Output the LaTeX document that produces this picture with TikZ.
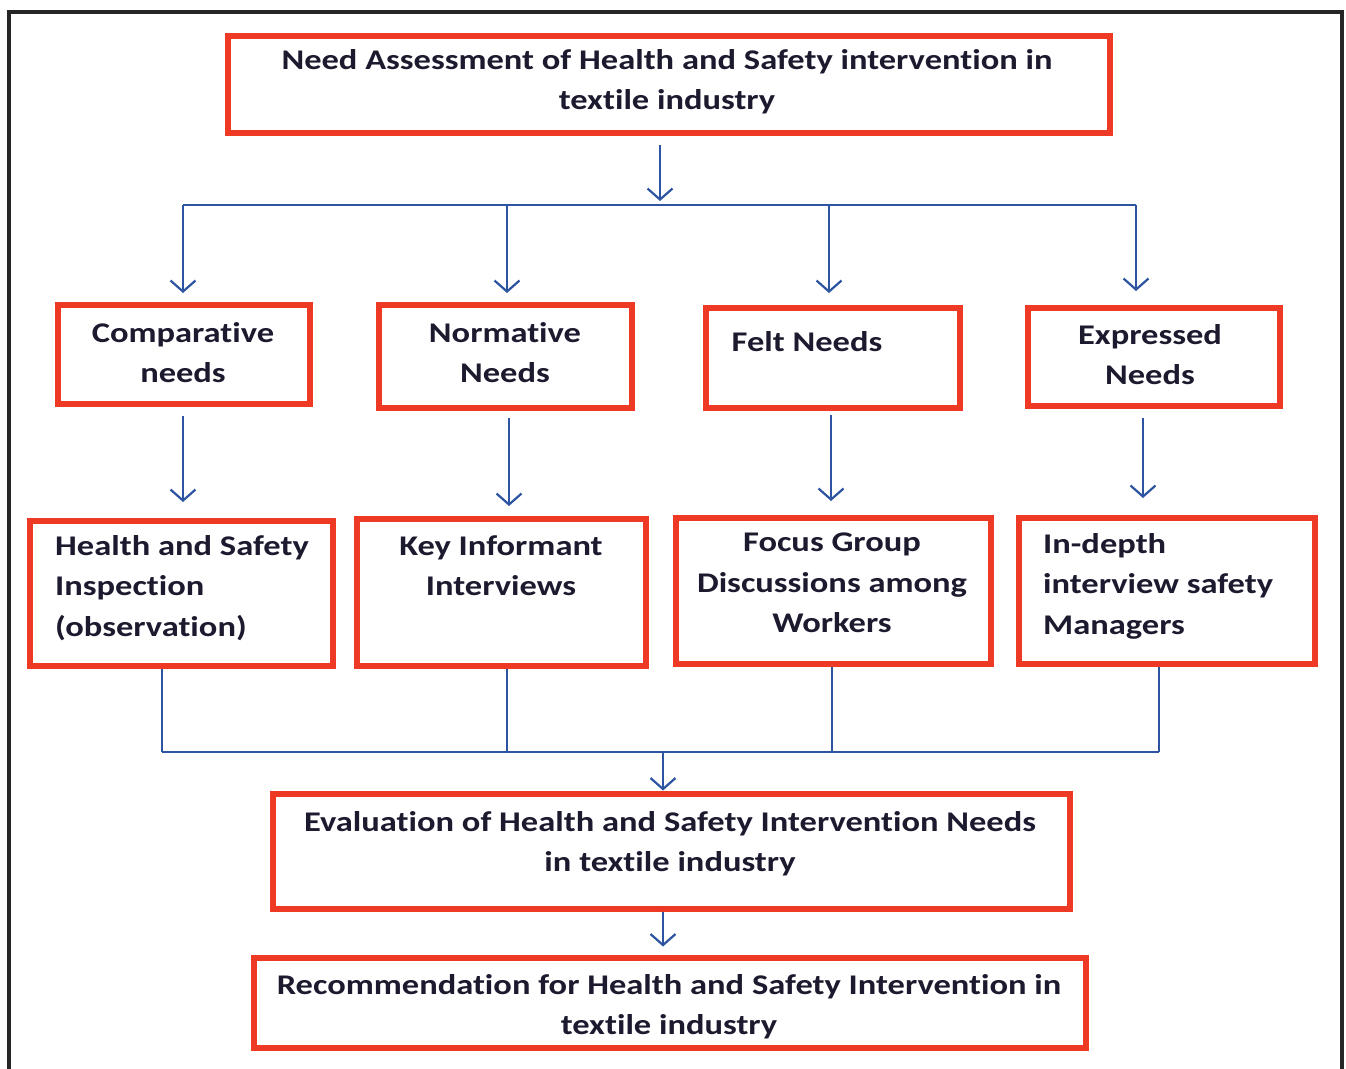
\documentclass[tikz,border=0pt]{standalone}
\usepackage{fontspec}
\setmainfont{Carlito}[Ligatures=NoCommon,BoldFeatures={FakeStretch=1.21}]
\usetikzlibrary{arrows.meta,calc}
\definecolor{boxred}{RGB}{238,58,36}
\definecolor{lineblue}{RGB}{45,84,160}
\definecolor{txt}{RGB}{28,26,46}
\begin{document}
\begin{tikzpicture}[x=1pt,y=-1pt,
  box/.style={draw=boxred, line width=6pt, rectangle, inner sep=0pt},
  lbl/.style={inner sep=0pt, text=txt, font=\fontsize{28.5}{40.5}\selectfont\bfseries},
  conn/.style={draw=lineblue, line width=2pt},
  arr/.style={conn, -{Straight Barb[length=11pt,width=25pt,line width=2.2pt]}}]
\useasboundingbox (0,0) rectangle (1346,1068);
% outer frame
\draw[line width=4pt, color=black!85] (8.7,1080) -- (8.7,12) -- (1342,12) -- (1342,1080);

% boxes
\node[box, minimum width=882pt, minimum height=97pt] (top) at (669,84.5) {};
\node[box, minimum width=252pt, minimum height=99pt] (c1) at (184,354.5) {};
\node[box, minimum width=253pt, minimum height=103pt] (c2) at (505.5,356.5) {};
\node[box, minimum width=254pt, minimum height=100pt] (c3) at (833,358) {};
\node[box, minimum width=252pt, minimum height=98pt] (c4) at (1154,357) {};
\node[box, minimum width=303pt, minimum height=145pt] (d1) at (181.5,593.5) {};
\node[box, minimum width=289pt, minimum height=147pt] (d2) at (501.5,592.5) {};
\node[box, minimum width=315pt, minimum height=146pt] (d3) at (833.5,591) {};
\node[box, minimum width=296pt, minimum height=146pt] (d4) at (1167,591) {};
\node[box, minimum width=797pt, minimum height=115pt] (ev) at (671.5,851) {};
\node[box, minimum width=832pt, minimum height=90.5pt] (rec) at (670,1002.75) {};

% texts
\node[lbl, align=center, anchor=north] (ttop) at (667,49) {Need Assessment of Health and Safety intervention in\\textile industry};
\node[lbl, align=center, anchor=north] (tc1) at (183,322) {Comparative\\needs};
\node[lbl, align=center, anchor=north] (tc2) at (505,322) {Normative\\Needs};
\node[lbl, align=center, anchor=north] (tc3) at (807,331) {Felt Needs};
\node[lbl, align=center, anchor=north] (tc4) at (1150,324) {Expressed\\Needs};
\node[lbl, align=left, anchor=north west] (td1) at (55,535) {Health and Safety\\Inspection\\(observation)};
\node[lbl, align=center, anchor=north] (td2) at (501,535) {Key Informant\\Interviews};
\node[lbl, align=center, anchor=north] (td3) at (832,533) {Focus Group\\Discussions among\\Workers};
\node[lbl, align=left, anchor=north west] (td4) at (1043,533) {In-depth\\interview safety\\Managers};
\node[lbl, align=center, anchor=north] (tev) at (670,811) {Evaluation of Health and Safety Intervention Needs\\in textile industry};
\node[lbl, align=center, anchor=north] (trec) at (669,974) {Recommendation for Health and Safety Intervention in\\textile industry};

% hub coordinates
\coordinate (hub) at (660,205);
\coordinate (h1) at (183,205);
\coordinate (h2) at (507,205);
\coordinate (h3) at (829,205);
\coordinate (h4) at (1136,205);
\coordinate (m1) at (183,0);
\coordinate (m2) at (509,0);
\coordinate (m3) at (831,0);
\coordinate (m4) at (1143,0);
\coordinate (b1) at (162,752);
\coordinate (b2) at (507,752);
\coordinate (b3) at (832,752);
\coordinate (b4) at (1159,752);
\coordinate (bhub) at (663,752);

% connectors top
\draw[arr, shorten <=9pt, shorten >=4pt] (top.south -| hub) -- (hub);
\draw[conn] (h1) -- (h4);
\draw[arr, shorten >=9pt] (h1) -- (h1 |- c1.north);
\draw[arr, shorten >=9pt] (h2) -- (h2 |- c2.north);
\draw[arr, shorten >=12pt] (h3) -- (h3 |- c3.north);
\draw[arr, shorten >=14pt] (h4) -- (h4 |- c4.north);

% row1 -> row2
\draw[arr, shorten <=9pt, shorten >=16pt] (c1.south -| m1) -- (d1.north -| m1);
\draw[arr, shorten <=7pt, shorten >=10pt] (c2.south -| m2) -- (d2.north -| m2);
\draw[arr, shorten <=4pt, shorten >=14pt] (c3.south -| m3) -- (d3.north -| m3);
\draw[arr, shorten <=9pt, shorten >=17pt] (c4.south -| m4) -- (d4.north -| m4);

% row2 -> evaluation
\draw[conn] (d1.south -| b1) -- (b1);
\draw[conn] (d2.south -| b2) -- (b2);
\draw[conn] (d3.south -| b3) -- (b3);
\draw[conn] (d4.south -| b4) -- (b4);
\draw[conn] (b1) -- (b4);
\draw[arr] (bhub) -- (ev.north -| bhub);
\draw[arr, shorten >=8pt] (ev.south -| bhub) -- (rec.north -| bhub);
\end{tikzpicture}
\end{document}
